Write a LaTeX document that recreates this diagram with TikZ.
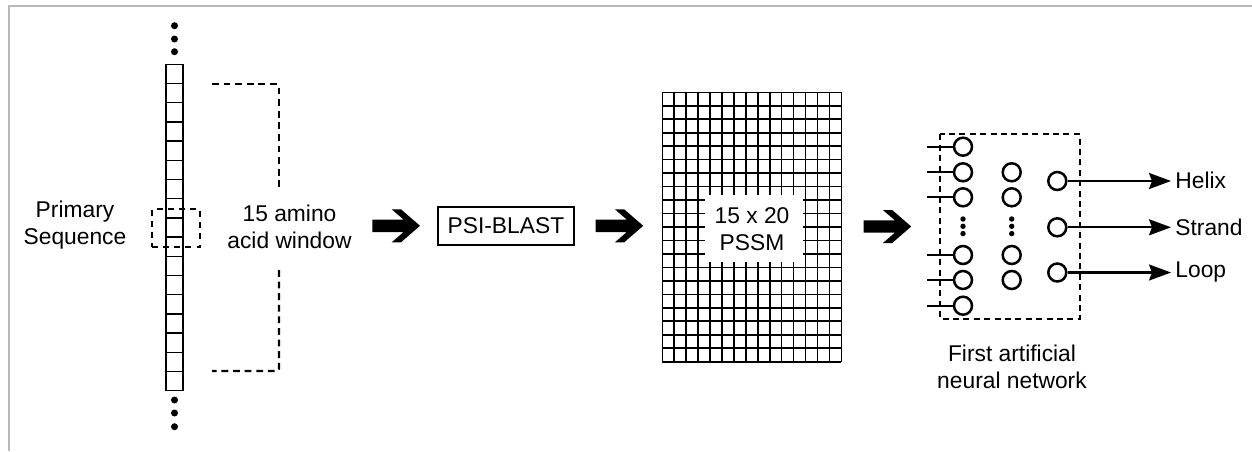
\documentclass[tikz,border=0pt]{standalone}
\usepackage{fontspec}
\setmainfont{Liberation Sans}
\usetikzlibrary{arrows.meta}
\begin{document}
\begin{tikzpicture}[x=0.5pt,y=-0.5pt,
  lbl/.style={font=\fontsize{11.4}{13.6}\selectfont, align=center, inner sep=2pt},
  cell/.style={line width=0.7pt},
  gridline/.style={line width=0.8pt},
  dashline/.style={line width=1.1pt, dash pattern=on 3.4pt off 2.4pt},
  neuron/.style={circle, draw, line width=1.25pt, minimum size=9pt, inner sep=0pt},
  wire/.style={line width=1.1pt},
  outarrow/.style={line width=1.1pt, -{Stealth[length=11pt, width=8pt, inset=1.5pt]}},
  dotmark/.style={fill=black},
  pics/blockarrow/.style={code={
    \fill (0,-6.2) -- (31.3,-6.2) -- (19.4,-16.5) -- (28.7,-16.5) -- (47.7,0)
          -- (28.7,16.5) -- (19.4,16.5) -- (31.3,6.2) -- (0,6.2) -- cycle;}}
]
\useasboundingbox (0,0) rectangle (1252,451);

% outer frame lines
\draw[gray!55, line width=0.75pt] (9,451) -- (9,6) -- (1252,6);

% ---------------- primary sequence column ----------------
\foreach \i in {0,...,16}
  \draw[cell] (166,64.3+\i*19.2) rectangle ++(17,19.2);
\foreach \yy in {25.7,39,51.7,400,413,426.7}
  \fill[dotmark] (174.5,\yy) circle[radius=1.75pt];

\node[draw, line width=1.1pt, dash pattern=on 3pt off 2.6pt,
      minimum width=24pt, minimum height=19pt, inner sep=0pt] (win) at (175.8,228.3) {};

\node[lbl] (prim) at (75,225) {Primary\\Sequence};

% bracket around the window label
\coordinate (bt1) at (212,84);
\coordinate (bt2) at (279,84);
\coordinate (bt3) at (279,191.7);
\coordinate (bb1) at (279,270);
\coordinate (bb2) at (279,371);
\coordinate (bb3) at (212,371);
\draw[dashline, rounded corners=1pt] (bt1) -- (bt2) -- (bt3);
\draw[dashline, rounded corners=1pt] (bb1) -- (bb2) -- (bb3);
\node[lbl] (wlab) at (289.5,227) {15 amino\\acid window};

% ---------------- first block arrow and PSI-BLAST ----------------
\pic at (372.3,225.8) {blockarrow};
\node[draw, line width=1.1pt, minimum width=68pt, minimum height=19pt, inner sep=0pt,
      font=\fontsize{11.4}{13.6}\selectfont] (blast) at (505.9,225.9) {PSI-BLAST};
\pic at (595.5,225.8) {blockarrow};

% ---------------- PSSM grid ----------------
\foreach \i in {0,...,15}
  \draw[gridline] (662.3+\i*11.933,92.3) -- ++(0,269.4);
\foreach \j in {0,...,20}
  \draw[gridline] (662.3,92.3+\j*13.47) -- ++(179,0);
\node[fill=white, minimum width=49pt, minimum height=33.6pt, inner sep=0pt] (pssmbg) at (754,228.1) {};
\node[lbl] (pssm) at (752,229.5) {15 x 20\\PSSM};

\pic at (863.5,226.5) {blockarrow};

% ---------------- neural network ----------------
\draw[dashline, dash pattern=on 3pt off 2.2pt] (940,134.3) rectangle (1080,319);

% input layer
\foreach \n/\yy in {1/146.7,2/172.3,3/197.3,4/255,5/280,6/305.7} {
  \node[neuron] (in\n) at (963,\yy) {};
  \coordinate (src\n) at (927,\yy);
  \draw[wire] (src\n) -- (in\n.west);
}
\foreach \yy in {219,226.3,233.6}
  \fill[dotmark] (963,\yy) circle[radius=1.35pt];

% hidden layer
\foreach \n/\yy in {1/172.3,2/197.3,3/255,4/280}
  \node[neuron] (hid\n) at (1011.7,\yy) {};
\foreach \yy in {219,226.3,233.6}
  \fill[dotmark] (1011.7,\yy) circle[radius=1.35pt];

% output layer
\node[neuron] (out1) at (1057.3,181) {};
\node[neuron] (out2) at (1057.3,227.3) {};
\node[neuron] (out3) at (1057.3,272.5) {};

\node[lbl, anchor=west] (helix) at (1171,180.5) {Helix};
\node[lbl, anchor=west] (strand) at (1171,227.3) {Strand};
\node[lbl, anchor=west] (loop) at (1171,272.5) {Loop};

\draw[outarrow] (out1.east) -- (out1.east -| helix.west);
\draw[outarrow] (out2.east) -- (out2.east -| strand.west);
\draw[outarrow] (out3.east) -- (out3.east -| loop.west);

\node[lbl] (nnlab) at (1012,367) {First artificial\\neural network};
\end{tikzpicture}
\end{document}
